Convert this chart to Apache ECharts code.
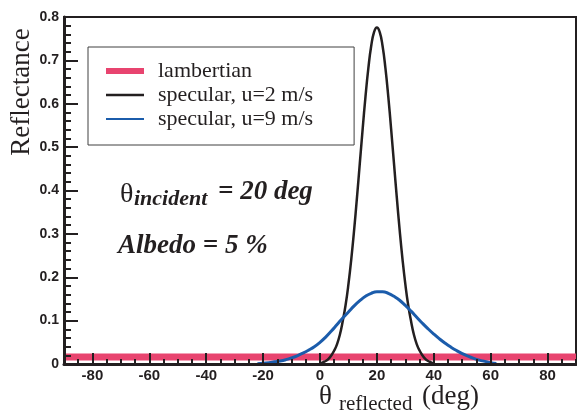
<!DOCTYPE html>
<html>
<head>
<meta charset="utf-8">
<script src="https://cdn.jsdelivr.net/npm/echarts@6/dist/echarts.min.js"></script>
<style>
  html, body { margin: 0; padding: 0; background: #fff; }
  #chart { width: 577px; height: 410px; }
</style>
</head>
<body>
<div id="chart"></div>
<script>
// lambertian level (albedo 5 %)
const lambertAngle = [-90, 90]
const lambertValue = [0.016, 0.016]

// specular, u=2 m/s (1 deg steps)
const spec2Angle = [0, 1, 2, 3, 4, 5, 6, 7, 8, 9, 10, 11, 12, 13, 14, 15, 16, 17, 18, 19, 20,
  21, 22, 23, 24, 25, 26, 27, 28, 29, 30, 31, 32, 33, 34, 35, 36, 37, 38, 39, 40]
const spec2Value = [0.001, 0.004, 0.007, 0.012, 0.020, 0.031, 0.046, 0.068, 0.099, 0.136, 0.184,
  0.242, 0.309, 0.384, 0.463, 0.542, 0.617, 0.682, 0.733, 0.765, 0.776,
  0.765, 0.733, 0.682, 0.617, 0.542, 0.463, 0.384, 0.309, 0.242, 0.184,
  0.136, 0.099, 0.068, 0.046, 0.031, 0.020, 0.012, 0.007, 0.004, 0.001]

// specular, u=9 m/s (2 deg steps)
const spec9Angle = [-22, -20, -18, -16, -14, -12, -10, -8, -6, -4, -2, 0, 2, 4, 6, 8, 10,
  12, 14, 16, 18, 20, 22, 24, 26, 28, 30, 32, 34, 36, 38, 40, 42, 44, 46, 48, 50, 52, 54, 56, 58, 60, 62]
const spec9Value = [0.0005, 0.0015, 0.003, 0.005, 0.007, 0.010, 0.014, 0.019, 0.025, 0.032, 0.040,
  0.050, 0.062, 0.076, 0.091, 0.106, 0.120, 0.134, 0.146, 0.156, 0.163, 0.1665,
  0.1665, 0.163, 0.156, 0.147, 0.135, 0.122, 0.108, 0.094, 0.081, 0.069, 0.058,
  0.048, 0.039, 0.031, 0.024, 0.018, 0.013, 0.009, 0.006, 0.003, 0.001]

// axis ticks
const xLabelTicks = [-80, -60, -40, -20, 0, 20, 40, 60, 80]

const seriesNames = ['lambertian', 'specular, u=2 m/s', 'specular, u=9 m/s']

const ink = '#231f20'
const pink = '#e8446f'
const blue = '#1b5cab'
const serif = 'Liberation Serif'
const sans = 'Liberation Sans'

const zip = (xs, ys) => xs.map((x, i) => [x, ys[i]])

function label(text, x, y, font, extra) {
  return Object.assign({
    type: 'text', x: x, y: y,
    style: { text: text, font: font, fill: ink,
      align: 'left', verticalAlign: 'middle', textAlign: 'left', textVerticalAlign: 'middle' },
  }, extra || {})
}

const chart = echarts.init(document.getElementById('chart'))

const option = {
  animation: false,
  grid: {
    left: 64,
    right: 1,
    top: 17,
    bottom: 46,
    show: true,
    borderColor: ink,
    borderWidth: 2,
  },
  legend: {
    orient: 'vertical',
    left: 88,
    top: 47,
    padding: [12, 41, 14, 15],
    itemGap: 0,
    itemWidth: 38,
    itemHeight: 10,
    borderColor: '#404040',
    borderWidth: 1,
    selectedMode: false,
    itemStyle: { opacity: 0 },
    textStyle: {
      fontFamily: serif,
      fontSize: 22,
      color: ink,
      lineHeight: 24,
      padding: [0, 0, 0, 9],
    },
    data: [
      { name: seriesNames[0], lineStyle: { width: 6 } },
      { name: seriesNames[1], lineStyle: { width: 2.5 } },
      { name: seriesNames[2], lineStyle: { width: 2 } },
    ],
  },
  xAxis: [
    {
      type: 'value',
      min: -90,
      max: 90,
      interval: 5,
      z: 10,
      axisLine: { onZero: false, lineStyle: { color: ink, width: 3 } },
      axisTick: { inside: true, length: 5, lineStyle: { color: ink, width: 2 } },
      axisLabel: {
        customValues: xLabelTicks,
        margin: 4,
        color: ink,
        fontFamily: sans,
        fontWeight: 'bold',
        fontSize: 15,
      },
      splitLine: { show: false },
    },
    {
      type: 'value',
      min: -90,
      max: 90,
      position: 'bottom',
      z: 10,
      axisLine: { show: false, onZero: false },
      axisTick: {
        inside: true,
        length: 11,
        customValues: xLabelTicks,
        lineStyle: { color: ink, width: 2 },
      },
      axisLabel: { show: false },
      splitLine: { show: false },
    },
  ],
  yAxis: {
    type: 'value',
    min: 0,
    max: 0.8,
    interval: 0.1,
    z: 10,
    axisLine: { show: true, onZero: false, lineStyle: { color: ink, width: 3 } },
    axisTick: { show: true, inside: true, length: 14, lineStyle: { color: ink, width: 2 } },
    minorTick: { show: true, splitNumber: 5, length: 7, lineStyle: { color: ink, width: 2 } },
    axisLabel: {
      margin: 5,
      color: ink,
      fontFamily: sans,
      fontWeight: 'bold',
      fontSize: 14,
    },
    splitLine: { show: false },
  },
  graphic: [
    {
      type: 'text', x: 22, y: 92, rotation: Math.PI / 2,
      style: { text: 'Reflectance', font: '27px "' + serif + '"', fill: ink,
        align: 'center', verticalAlign: 'middle', textAlign: 'center', textVerticalAlign: 'middle' },
    },
    label('θ', 319, 397, '27px "' + serif + '"'),
    label('reflected', 339, 404, '21px "' + serif + '"'),
    label('(deg)', 422, 397, '27px "' + serif + '"'),
    label('θ', 120, 195, '28px "' + serif + '"'),
    label('incident', 134, 199, 'italic bold 22px "' + serif + '"'),
    label('= 20 deg', 218, 192, 'italic bold 27px "' + serif + '"'),
    label('Albedo = 5 %', 118, 246, 'italic bold 27px "' + serif + '"'),
  ],
  series: [
    {
      name: seriesNames[0],
      type: 'line',
      data: zip(lambertAngle, lambertValue),
      symbol: 'none',
      color: pink,
      lineStyle: { color: pink, width: 7 },
    },
    {
      name: seriesNames[1],
      type: 'line',
      data: zip(spec2Angle, spec2Value),
      symbol: 'none',
      smooth: true,
      color: ink,
      lineStyle: { color: ink, width: 2.5 },
    },
    {
      name: seriesNames[2],
      type: 'line',
      data: zip(spec9Angle, spec9Value),
      symbol: 'none',
      smooth: true,
      color: blue,
      lineStyle: { color: blue, width: 3 },
    },
  ],
}

chart.setOption(option)
</script>
</body>
</html>
